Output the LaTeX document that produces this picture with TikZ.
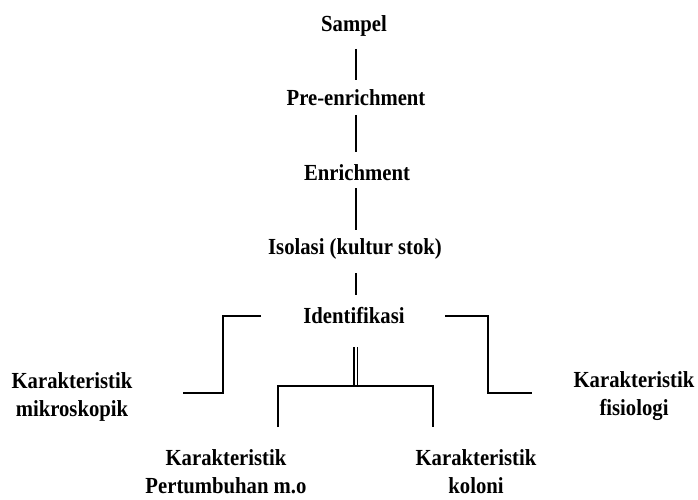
\documentclass[tikz,border=0pt]{standalone}
\usepackage{fontspec}
\setmainfont{Liberation Serif}[FakeStretch=0.9]
\begin{document}
\begin{tikzpicture}[x=1pt,y=-1pt,
  lbl/.style={font=\fontsize{23}{28}\selectfont\bfseries, inner sep=0pt, align=center},
  conn/.style={line width=1.4pt, black}]
\useasboundingbox (0,0) rectangle (698,500);
\node[lbl] (sampel) at (354,26) {Sampel};
\node[lbl] (pre) at (356,98) {Pre-enrichment};
\node[lbl] (enr) at (357,173) {Enrichment};
\node[lbl] (iso) at (355,249) {Isolasi (kultur stok)};
\node[lbl] (idf) at (354,316) {Identifikasi};
\node[lbl] (mik) at (72,397) {Karakteristik\\mikroskopik};
\node[lbl] (fis) at (634,396) {Karakteristik\\fisiologi};
\node[lbl] (per) at (226,472) {Karakteristik\\Pertumbuhan m.o};
\node[lbl] (kol) at (476,472) {Karakteristik\\koloni};
% named points
\coordinate (a1) at (356,49); \coordinate (a2) at (356,80);
\coordinate (b1) at (356,115); \coordinate (b2) at (356,152);
\coordinate (c1) at (356,188); \coordinate (c2) at (356,230);
\coordinate (d1) at (356,273); \coordinate (d2) at (356,295);
\coordinate (lb1) at (261,316); \coordinate (lb2) at (223,316);
\coordinate (lb3) at (223,393); \coordinate (lb4) at (183,393);
\coordinate (rb1) at (445,316); \coordinate (rb2) at (488,316);
\coordinate (rb3) at (488,393); \coordinate (rb4) at (532,393);
\coordinate (m1) at (354,347); \coordinate (m2) at (354,386);
\coordinate (m3) at (357.5,347); \coordinate (m4) at (357.5,386);
\coordinate (h1) at (278,386); \coordinate (h2) at (433,386);
\coordinate (v1) at (278,427); \coordinate (v2) at (433,427);
\draw[conn] (a1) -- (a2);
\draw[conn] (b1) -- (b2);
\draw[conn] (c1) -- (c2);
\draw[conn] (d1) -- (d2);
\draw[conn] (lb1) -- (lb2) -- (lb3) -- (lb4);
\draw[conn] (rb1) -- (rb2) -- (rb3) -- (rb4);
\draw[conn] (m1) -- (m2);
\draw[conn] (m3) -- (m4);
\draw[conn] (v1) -- (h1) -- (h2) -- (v2);
\end{tikzpicture}
\end{document}
